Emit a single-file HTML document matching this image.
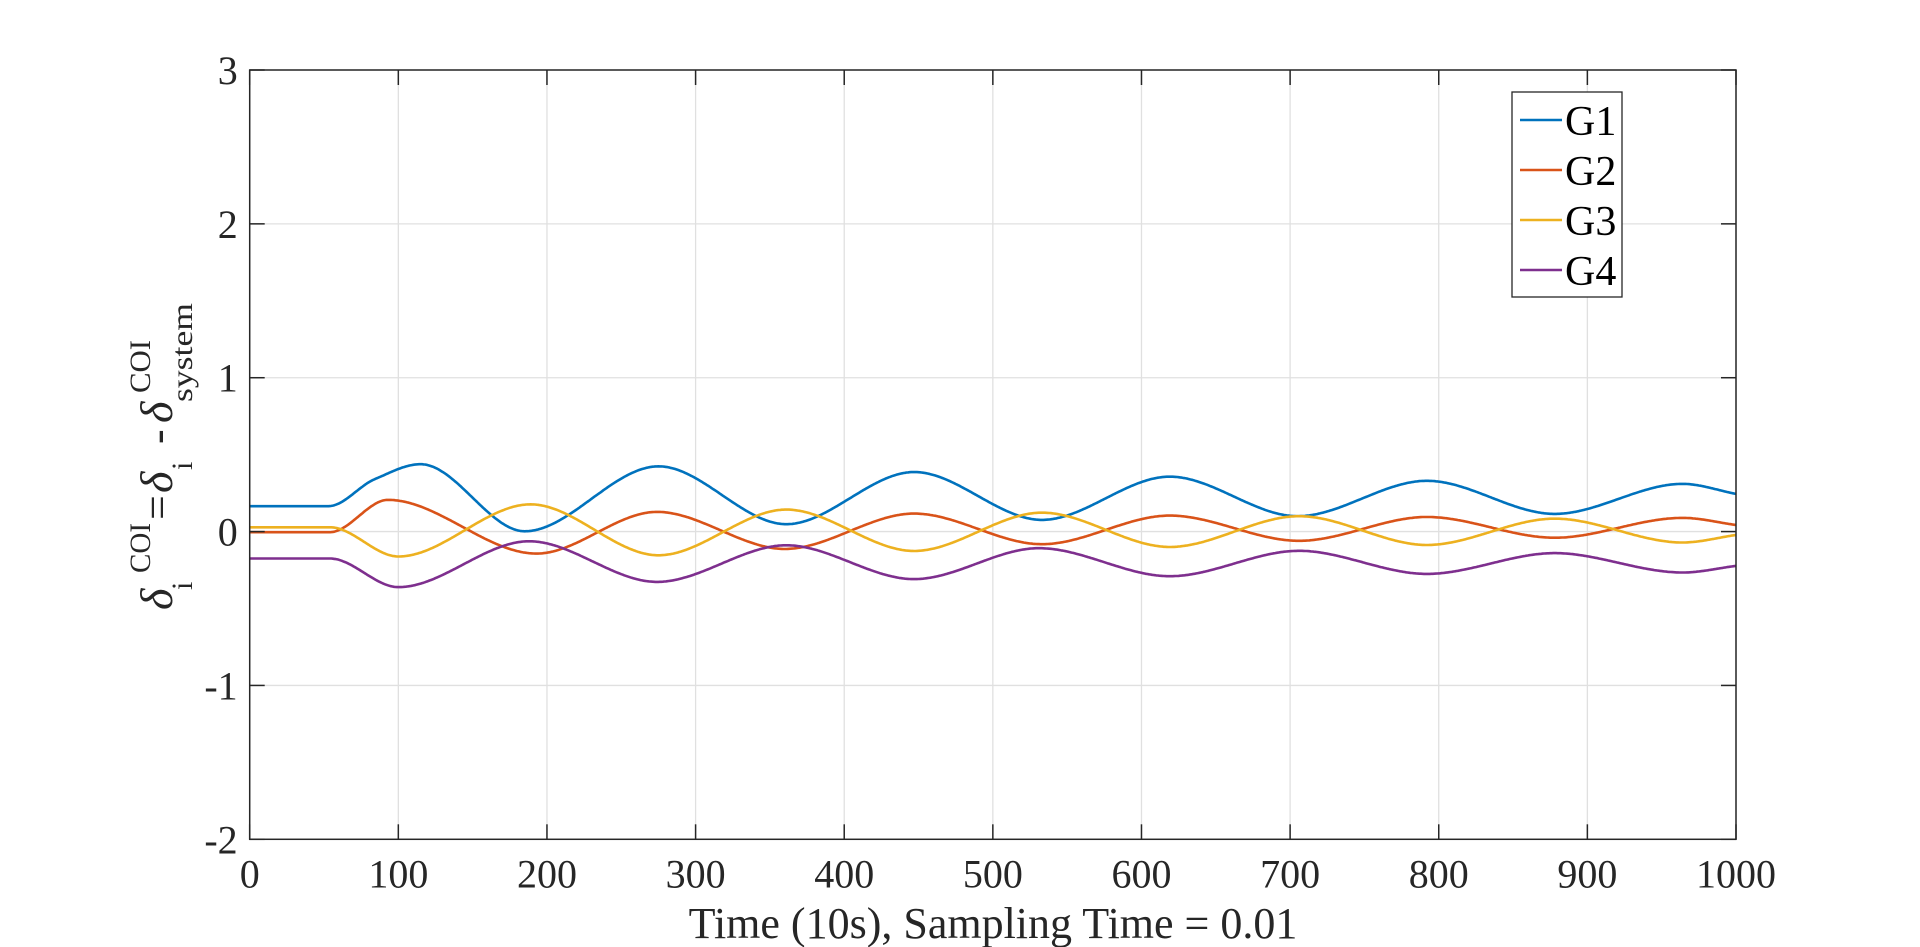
<!DOCTYPE html>
<html><head><meta charset="utf-8"><title>COI angle chart</title>
<style>
html,body{margin:0;padding:0;background:#fff;}
svg{display:block;font-family:"Liberation Serif","DejaVu Serif",serif;}
</style></head>
<body>
<svg id="chart" width="1920" height="947" viewBox="0 0 1920 947" xmlns="http://www.w3.org/2000/svg">
<rect width="1920" height="947" fill="#fff"/>
<g id="grid"></g>
<g id="series"></g>
<g id="axes"></g>
<text x="993" y="938" font-size="44" text-anchor="middle" fill="#262626">Time (10s), Sampling Time = 0.01</text>
<g transform="translate(172,456) rotate(-90)" fill="#262626">
  <text x="-154" y="0" font-size="46" font-style="italic">δ</text>
  <text x="-134" y="20" font-size="30">i</text>
  <text x="-117" y="-22" font-size="30" textLength="50" lengthAdjust="spacingAndGlyphs">COI</text>
  <text x="-64" y="0" font-size="44">=</text>
  <text x="-37" y="0" font-size="46" font-style="italic">δ</text>
  <text x="-14" y="20" font-size="30">i</text>
  <text x="12" y="0" font-size="44">-</text>
  <text x="33" y="0" font-size="46" font-style="italic">δ</text>
  <text x="63" y="-22" font-size="30" textLength="53" lengthAdjust="spacingAndGlyphs">COI</text>
  <text x="54" y="20" font-size="30" textLength="99" lengthAdjust="spacingAndGlyphs">system</text>
</g>
<g id="legend"></g>
</svg>
<script>
const xTicks = [0,100,200,300,400,500,600,700,800,900,1000];
const yTicks = [-2,-1,0,1,2,3];
const seriesNames = ["G1","G2","G3","G4"];
const g1 = [[0,0.165],[53,0.165],[84,0.34],[115,0.438],[185,0.002],[275,0.424],[361,0.048],[447,0.387],[533,0.076],[619,0.357],[705,0.10],[792,0.33],[878,0.115],[964,0.31],[1000,0.245]];
const g2 = [[0,-0.004],[54,-0.004],[93,0.206],[193,-0.143],[274,0.128],[360,-0.113],[447,0.117],[533,-0.082],[619,0.104],[706,-0.06],[792,0.095],[878,-0.04],[964,0.089],[1000,0.043]];
const g3 = [[0,0.028],[54,0.028],[100,-0.162],[189,0.177],[275,-0.154],[361,0.143],[447,-0.126],[533,0.123],[619,-0.10],[706,0.10],[792,-0.087],[878,0.084],[964,-0.071],[1000,-0.022]];
const g4 = [[0,-0.175],[54,-0.175],[100,-0.361],[188,-0.063],[274,-0.327],[361,-0.089],[447,-0.309],[531,-0.108],[619,-0.29],[706,-0.125],[792,-0.275],[878,-0.14],[964,-0.266],[1000,-0.223]];
const colors = ["#0072BD","#D95319","#EDB120","#7E2F8E"];

const X0=249.7, X1=1736, Y0=839.3, Y1=70;
const xMin=0,xMax=1000,yMin=-2,yMax=3;
const sx=v=>X0+(v-xMin)/(xMax-xMin)*(X1-X0);
const sy=v=>Y0-(v-yMin)/(yMax-yMin)*(Y0-Y1);
const NS="http://www.w3.org/2000/svg";
function mk(tag,attrs,parent){const e=document.createElementNS(NS,tag);for(const k in attrs)e.setAttribute(k,attrs[k]);parent.appendChild(e);return e;}

const grid=document.getElementById('grid'), axes=document.getElementById('axes');
xTicks.forEach(t=>{
  const l=mk('line',{x1:sx(t),x2:sx(t),y1:Y1,y2:Y0,stroke:'#e0e0e0','stroke-width':1.3},grid);
  
  
  const a=mk('line',{x1:sx(t),x2:sx(t),y1:Y0,y2:Y0-15,stroke:'#262626','stroke-width':1.5},axes);
  
  
  const b=mk('line',{x1:sx(t),x2:sx(t),y1:Y1,y2:Y1+15,stroke:'#262626','stroke-width':1.5},axes);
  
  
  const tx=mk('text',{x:sx(t),y:Y0+48,'font-size':40,'text-anchor':'middle',fill:'#262626'},axes);
  tx.textContent=t;
  
  
});
yTicks.forEach(t=>{
  const l=mk('line',{x1:X0,x2:X1,y1:sy(t),y2:sy(t),stroke:'#e0e0e0','stroke-width':1.3},grid);
  
  
  const a=mk('line',{x1:X0,x2:X0+15,y1:sy(t),y2:sy(t),stroke:'#262626','stroke-width':1.5},axes);
  
  
  const b=mk('line',{x1:X1,x2:X1-15,y1:sy(t),y2:sy(t),stroke:'#262626','stroke-width':1.5},axes);
  
  
  const tx=mk('text',{x:X0-12,y:sy(t)+14,'font-size':40,'text-anchor':'end',fill:'#262626'},axes);
  tx.textContent=t;
  
  
});
const box=mk('rect',{x:X0,y:Y1,width:X1-X0,height:Y0-Y1,fill:'none',stroke:'#262626','stroke-width':1.5},axes);



function monotone(pts){
  const n=pts.length,xs=pts.map(p=>p[0]),ys=pts.map(p=>p[1]);
  const d=[],m=new Array(n);
  for(let i=0;i<n-1;i++)d.push((ys[i+1]-ys[i])/(xs[i+1]-xs[i]));
  m[0]=d[0];m[n-1]=d[n-2];
  for(let i=1;i<n-1;i++){
    if(d[i-1]*d[i]<=0)m[i]=0;
    else{const w1=2*(xs[i+1]-xs[i])+(xs[i]-xs[i-1]),w2=(xs[i+1]-xs[i])+2*(xs[i]-xs[i-1]);m[i]=(w1+w2)/(w1/d[i-1]+w2/d[i]);}
  }
  return t=>{
    let i=0;while(i<n-2&&t>xs[i+1])i++;
    const h=xs[i+1]-xs[i],u=(t-xs[i])/h;
    const h00=2*u*u*u-3*u*u+1,h10=u*u*u-2*u*u+u,h01=-2*u*u*u+3*u*u,h11=u*u*u-u*u;
    return h00*ys[i]+h10*h*m[i]+h01*ys[i+1]+h11*h*m[i+1];
  };
}
const seriesG=document.getElementById('series');
[g1,g2,g3,g4].forEach((pts,k)=>{
  const f=monotone(pts);let d='';
  const end=pts[pts.length-1][0];
  for(let t=pts[0][0];t<=end+0.001;t+=1){d+=(d?'L':'M')+sx(t).toFixed(1)+','+sy(f(t)).toFixed(1);}
  const p=mk('path',{d:d,fill:'none',stroke:colors[k],'stroke-width':2.6,'stroke-linejoin':'round'},seriesG);
  
  
});
const lg=document.getElementById('legend');
const lb=mk('rect',{x:1512,y:92,width:110,height:205,fill:'#fff',stroke:'#262626','stroke-width':1.3},lg);


seriesNames.forEach((nm,k)=>{
  const y=120+k*50;
  const l=mk('line',{x1:1520,x2:1562,y1:y,y2:y,stroke:colors[k],'stroke-width':2.6},lg);
  
  
  const t=mk('text',{x:1565,y:y+15,'font-size':42,fill:'#000'},lg);
  t.textContent=nm;
  
  
});
</script>
</body></html>
